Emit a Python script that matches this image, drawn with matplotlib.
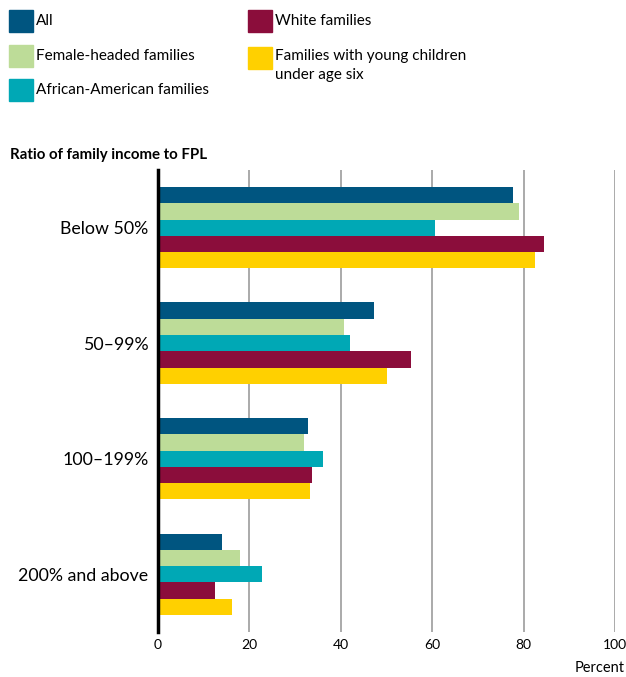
import numpy as np
import matplotlib.pyplot as plt
from matplotlib.patches import Rectangle

plt.rcParams['font.family'] = ['Lato', 'DejaVu Sans']

categories = ["Below 50%", "50\u201399%", "100\u2013199%", "200% and above"]
series = ["All", "Female-headed families", "African-American families",
          "White families", "Families with young children\nunder age six"]
colors = ["#005580", "#BDDC98", "#00A8B5", "#8B0D3B", "#FFD000"]

all_fam = [77.6, 47.3, 32.8, 14.0]
female = [79.0, 40.7, 31.9, 17.9]
african_am = [60.6, 42.0, 36.1, 22.8]
white = [84.5, 55.4, 33.7, 12.5]
young = [82.5, 50.1, 33.3, 16.2]
values = [all_fam, female, african_am, white, young]

xticks = [0, 20, 40, 60, 80, 100]

fig = plt.figure(figsize=(6.26, 6.77), dpi=100)
ax = fig.add_axes([0.2524, 0.0665, 0.7300, 0.6825])

h = 0.141
y = np.arange(len(categories))
for i, (vals, col) in enumerate(zip(values, colors)):
    ax.barh(y + (i - 2) * h, vals, height=h, color=col, zorder=3, linewidth=0)

ax.set_xlim(0, 100)
ax.set_ylim(3.5, -0.5)
ax.set_xticks(xticks)
ax.set_xticklabels([str(t) for t in xticks], fontsize=10)
ax.set_yticks(y)
ax.set_yticklabels(categories, fontsize=12.8)
ax.tick_params(axis='both', length=0)
ax.tick_params(axis='x', pad=5)
ax.tick_params(axis='y', pad=7)
ax.grid(axis='x', color='#aaaaaa', linewidth=1.4, zorder=0)
for s in ['top', 'right', 'bottom']:
    ax.spines[s].set_visible(False)
ax.spines['left'].set_linewidth(2.5)
ax.spines['left'].set_zorder(4)

fig.text(625 / 626, 1 - 668 / 677, "Percent", ha='right', va='center', fontsize=10.5)
fig.text(10 / 626, 1 - 155 / 677, "Ratio of family income to FPL", ha='left', va='center',
         fontsize=10.8, fontweight='bold')

# legend drawn by hand, two columns
W, H = 626, 677
legend_pos = [(9, 10), (9, 45), (9, 79), (248, 10), (248, 47)]
for (px, py), lab, col in zip(legend_pos, series, colors):
    fig.patches.append(Rectangle((px / W, 1 - (py + 22) / H), 24 / W, 22 / H,
                                 transform=fig.transFigure, color=col))
    if '\n' in lab:
        fig.text((px + 27) / W, 1 - (py + 2) / H, lab, ha='left', va='top',
                 fontsize=11, linespacing=1.5)
    else:
        fig.text((px + 27) / W, 1 - (py + 11) / H, lab, ha='left', va='center',
                 fontsize=11)

fig.savefig("out.png", dpi=100)
